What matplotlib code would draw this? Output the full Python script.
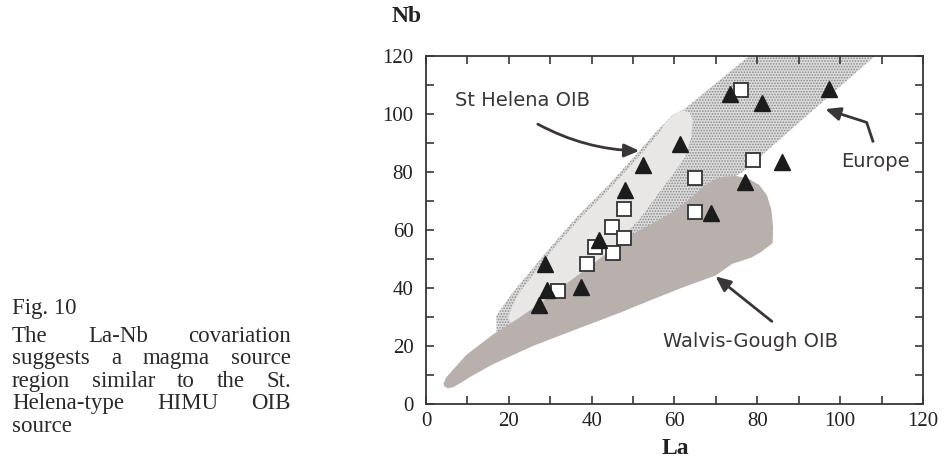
import matplotlib
matplotlib.use("Agg")
import matplotlib.pyplot as plt
from matplotlib.patches import Polygon

# sample points (La, Nb)
tri_la = [27.3, 28.7, 29.2, 37.4, 41.8, 48.1, 52.3, 61.3, 68.9, 73.5, 81.1, 85.9, 77.0, 97.2]
tri_nb = [34.3, 48.4, 39.4, 40.2, 56.5, 73.7, 82.4, 89.6, 65.7, 106.9, 103.8, 83.6, 76.6, 108.7]
sq_la = [31.8, 38.9, 40.9, 44.9, 45.2, 47.9, 47.9, 64.9, 64.9, 76.0, 79.0]
sq_nb = [38.9, 48.4, 54.3, 61.1, 51.9, 57.1, 67.1, 78.1, 66.2, 108.3, 84.2]

# field outlines
eu_la = [17, 17, 21.0, 29.9, 36.3, 44.3, 51.6, 55.4, 59.5, 62.3, 78, 108.4, 96.4, 76.5, 70, 50, 23, 17]
eu_nb = [24.5, 30.5, 38.6, 53.8, 64.3, 75.8, 87.4, 93.6, 99.6, 101.6, 120, 120, 105, 80, 75, 55, 27, 24.5]

sh_la = [19.8, 20.8, 22.6, 30.6, 37.0, 45.0, 52.3, 56.0, 58.3, 60.3, 62.2, 63.7, 64.4, 64.2, 63.9, 62.7, 59.5, 56.3,
         51.5, 48.3, 40.0, 30.0, 23.0, 20.6]
sh_nb = [29.8, 33.5, 38.5, 53.3, 63.7, 75.2, 86.7, 93.0, 97.8, 100.4, 101.2, 100.4, 98.0, 94.0, 91.3, 85.6, 79.0,
         73.0, 63.7, 59.0, 46.0, 34.0, 27.2, 27.6]

wg_la = [4.2, 4.8, 6.5, 9.8, 16, 22.6, 29, 38.6, 49, 58.7, 63.5, 67, 69.5, 72, 75, 78, 80.5, 82.3, 83.4, 83.8,
         83.7, 81, 78.6, 73.9, 69.9, 62, 54.6, 46.7, 36, 25.8, 16, 11, 8.5, 6.6, 5.3, 4.4]
wg_nb = [7.0, 9.0, 11.8, 17.0, 23.8, 29.8, 36.2, 46.5, 57.8, 65.4, 70.5, 75, 77.3, 78.4, 78.6, 77.6, 75.5, 72,
         67, 61, 55.5, 52.5, 50.5, 48.3, 44.3, 40.2, 36, 31.4, 25.6, 20, 13.6, 9.6, 7.4, 5.8, 5.4, 6.1]

x_ticks = list(range(0, 121, 10))
x_labels = ["0", "", "20", "", "40", "", "60", "", "80", "", "100", "", "120"]
y_ticks = list(range(0, 121, 10))
y_labels = ["0", "", "20", "", "40", "", "60", "", "80", "", "100", "", "120"]
long_ticks = [50, 100]

caption = [
    ["The", "La-Nb", "covariation"],
    ["suggests", "a", "magma", "source"],
    ["region", "similar", "to", "the", "St."],
    ["Helena-type", "HIMU", "OIB"],
]

W, H = 945, 468
INK = "#3a3636"
SERIF = "Liberation Serif"

plt.rcParams["hatch.linewidth"] = 0.8

fig = plt.figure(figsize=(W / 100, H / 100), dpi=100)
ax = fig.add_axes([426 / W, 1 - 404 / H, 497 / W, 348 / H])

ax.add_patch(Polygon(list(zip(eu_la, eu_nb)), closed=True, facecolor="#dcdcdc", edgecolor="#8a8a8a",
                     hatch="......", linewidth=0, zorder=1))
ax.add_patch(Polygon(list(zip(sh_la, sh_nb)), closed=True, facecolor="#e9e7e5", edgecolor="none", zorder=2))
ax.add_patch(Polygon(list(zip(wg_la, wg_nb)), closed=True, facecolor="#b8b0ad", edgecolor="none", zorder=3))

ax.plot(sq_la, sq_nb, "s", markersize=10.5, markerfacecolor="white", markeredgecolor="#333333",
        markeredgewidth=1.3, zorder=5)
ax.plot(tri_la, tri_nb, "^", markersize=11, color="#1c1c1c", zorder=6)

# labels and arrows
arrow = dict(arrowstyle="-|>,head_length=0.9,head_width=0.4", color=INK, lw=2, shrinkA=0, shrinkB=0)
ax.text(7, 104.8, "St Helena OIB", fontsize=14, color=INK, va="center", ha="left", zorder=7)
ax.annotate("", xy=(51.5, 87.3), xytext=(27, 96.5),
            arrowprops=dict(arrow, connectionstyle="arc3,rad=0.12"), zorder=7)

ax.text(100.3, 83.7, "Europe", fontsize=14, color=INK, va="center", ha="left", zorder=7)
ax.plot([108, 106.4], [90.2, 97.1], color=INK, lw=2, solid_capstyle="butt", zorder=7)
ax.annotate("", xy=(96.4, 101.7), xytext=(106.4, 97.1), arrowprops=arrow, zorder=7)

ax.text(57.2, 21.5, "Walvis-Gough OIB", fontsize=14, color=INK, va="center", ha="left", zorder=7)
ax.annotate("", xy=(69.9, 44), xytext=(83.5, 28.5), arrowprops=arrow, zorder=7)

# axes
ax.set_xlim(0, 120)
ax.set_ylim(0, 120)
ax.set_xticks(x_ticks)
ax.set_xticklabels(x_labels)
ax.set_yticks(y_ticks)
ax.set_yticklabels(y_labels)
ax.set_xticks(long_ticks, minor=True)
ax.set_yticks(long_ticks, minor=True)
ax.tick_params(which="major", direction="in", length=6, width=1.2, color=INK,
               top=True, right=True, labelsize=15, labelcolor="#222222")
ax.tick_params(which="minor", direction="in", length=12, width=1.2, color=INK, top=True, right=True)
ax.tick_params(axis="x", which="major", pad=6)
ax.tick_params(axis="y", which="major", pad=9)
for lab in ax.get_xticklabels() + ax.get_yticklabels():
    lab.set_fontfamily(SERIF)
for spine in ax.spines.values():
    spine.set_color(INK)
    spine.set_linewidth(1.3)

fig.text(407 / W, 1 - 17 / H, "Nb", fontsize=17, fontweight="bold", family=SERIF, ha="center", va="center",
         color="#222222")
fig.text(675 / W, 1 - 449 / H, "La", fontsize=17, fontweight="bold", family=SERIF, ha="center", va="center",
         color="#222222")

# caption, justified like the printed page
cap_kw = dict(fontsize=16.5, family=SERIF, color="#2a2a2a", va="baseline", ha="left")
fig.text(12 / W, 1 - 314 / H, "Fig. 10", **cap_kw)
renderer = fig.canvas.get_renderer()
left, right = 12, 291
for i, words in enumerate(caption):
    base = 341.7 + 22.5 * i
    texts = [fig.text(0, 1 - base / H, w, **cap_kw) for w in words]
    widths = [t.get_window_extent(renderer).width for t in texts]
    gap = (right - left - sum(widths)) / (len(words) - 1)
    x = left
    for t, w in zip(texts, widths):
        t.set_x(x / W)
        x += w + gap
fig.text(12 / W, 1 - (341.7 + 22.5 * 4) / H, "source", **cap_kw)

fig.savefig("out.png", dpi=100)
